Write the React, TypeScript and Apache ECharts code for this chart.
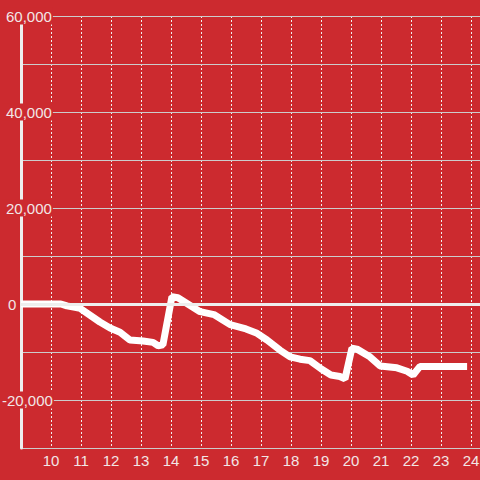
import React, { useEffect, useRef } from "react";
import * as echarts from "echarts";

const hours = [9.0, 10.33, 10.53, 10.8, 10.97, 11.63, 11.97, 12.3, 12.63, 13.07, 13.4, 13.57, 13.73, 14.03, 14.23, 14.97, 15.43, 15.97, 16.5, 16.87, 17.2, 17.63, 17.97, 18.3, 18.63, 19.0, 19.33, 19.63, 19.8, 20.03, 20.2, 20.63, 20.97, 21.53, 21.87, 22.07, 22.3, 23.87];
const values = [0, 0, -400, -700, -900, -3750, -5000, -5900, -7500, -7700, -8000, -8700, -8500, 1500, 1300, -1600, -2200, -4300, -5200, -6100, -7500, -9600, -11000, -11500, -11800, -13500, -14800, -15100, -15600, -9200, -9400, -11000, -12900, -13300, -14000, -14800, -13000, -13000];

const yMin = -30000;
const yMax = 60000;
const yStep = 10000;
const yLabelStep = 20000;
const xMin = 9;
const xMax = 24.3;

const BG = "#cc2a2f";
const TXT = "#f2e6e6";
const FONT = "'Liberation Sans', Arial, sans-serif";

function fmt(v: number): string {
  const s = String(Math.abs(v)).replace(/\B(?=(\d{3})+(?!\d))/g, ",");
  return (v < 0 ? "-" : "") + s;
}

export default function App() {
  const ref = useRef<HTMLDivElement>(null);
  useEffect(() => {
    if (!ref.current) return;
    const chart = echarts.init(ref.current, undefined, { renderer: "svg" });
    chart.setOption({
      animation: false,
      backgroundColor: BG,
      grid: { left: 21, right: 0, top: 16, bottom: 32, containLabel: false, outerBoundsMode: "none" },
      xAxis: {
        type: "value",
        min: xMin,
        max: xMax,
        interval: 1,
        axisLine: { show: true, onZero: false, lineStyle: { color: "#cccccc", width: 1 } },
        axisTick: { show: false },
        axisLabel: {
          color: TXT,
          fontSize: 15,
          fontFamily: FONT,
          margin: 5,
          formatter: (v: number) => (Number.isInteger(v) && v > xMin ? String(v) : ""),
        },
        splitLine: { show: true, lineStyle: { color: "#f0f0f0", width: 1, type: [2, 2] } },
      },
      yAxis: {
        type: "value",
        min: yMin,
        max: yMax,
        interval: yStep,
        axisLine: { show: true, lineStyle: { color: "#eeeeee", width: 3 } },
        axisTick: { show: false },
        splitLine: { show: true, lineStyle: { color: "#cccccc", width: 1 } },
        axisLabel: {
          inside: false,
          align: "left",
          margin: 19,
          fontSize: 15,
          fontFamily: FONT,
          color: TXT,
          formatter: (v: number) => {
            if (v === 0) return "{z|0}";
            if (v % yLabelStep !== 0) return "";
            return (v < 0 ? "{m|" : "{p|") + fmt(v) + "}";
          },
          rich: {
            p: { backgroundColor: BG, color: TXT, fontSize: 15, fontFamily: FONT, padding: [1, 1, 1, 4] },
            m: { backgroundColor: BG, color: TXT, fontSize: 15, fontFamily: FONT, padding: [1, 1, 1, 0] },
            z: { color: TXT, fontSize: 15, fontFamily: FONT, padding: [0, 0, 0, 6] },
          },
        },
        z: 3,
      },
      series: [
        {
          type: "line",
          data: hours.map((h, i) => [h, values[i]]),
          showSymbol: false,
          symbol: "none",
          lineStyle: { color: "#ffffff", width: 7 },
          z: 4,
          markLine: {
            silent: true,
            symbol: ["none", "none"],
            label: { show: false },
            lineStyle: { color: "#eeeeee", width: 3, type: "solid" },
            data: [{ yAxis: 0 }],
          },
        },
      ],
    });
    return () => chart.dispose();
  }, []);
  return <div ref={ref} style={{ position: "fixed", left: 0, top: 0, width: 480, height: 480 }} />;
}
